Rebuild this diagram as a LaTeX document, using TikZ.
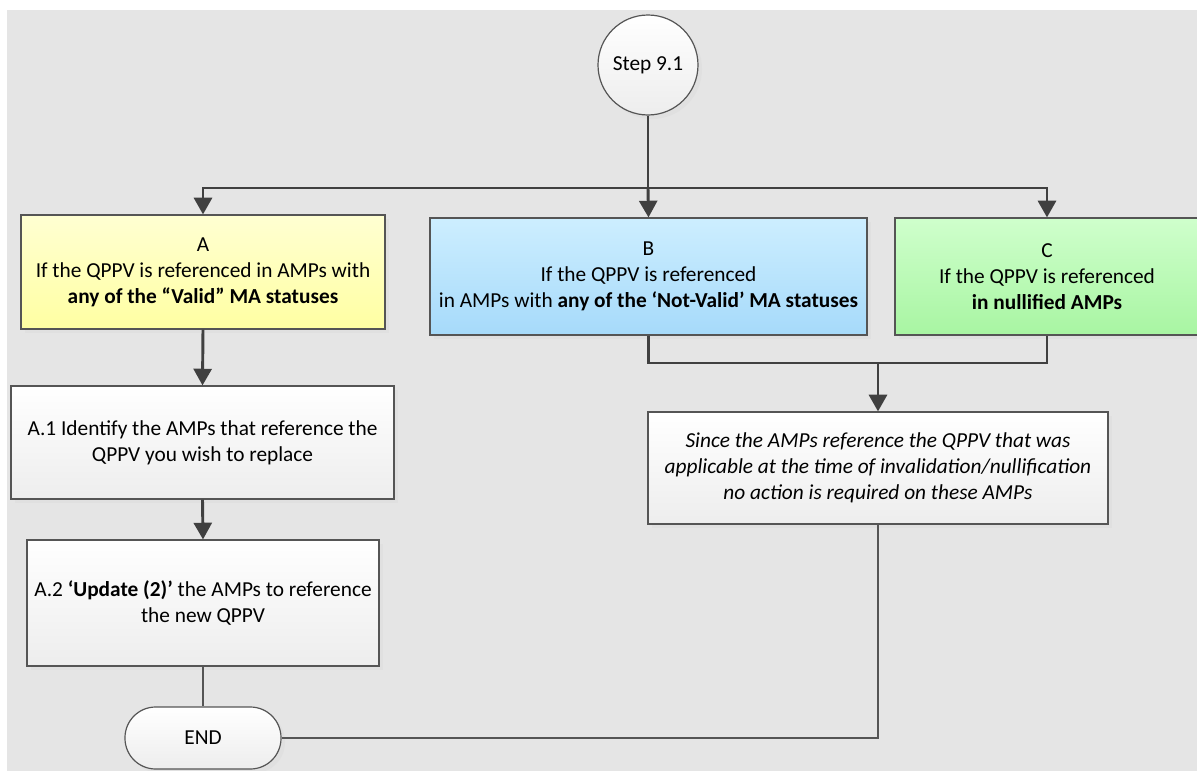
\documentclass[tikz,border=0pt]{standalone}
\usepackage{fontspec}
\setmainfont{Carlito}
\usetikzlibrary{arrows.meta,shadows}

\definecolor{bgGray}{HTML}{E5E5E5}
\definecolor{lineGray}{HTML}{404040}
\definecolor{borderGray}{HTML}{555555}
\definecolor{yellowTop}{HTML}{FFFFD2}
\definecolor{yellowBot}{HTML}{FFFFA2}
\definecolor{blueTop}{HTML}{CDEEFF}
\definecolor{blueBot}{HTML}{A6DAFA}
\definecolor{greenTop}{HTML}{CFFFCC}
\definecolor{greenBot}{HTML}{A8F5A2}

\tikzset{
  box/.style={draw=borderGray, line width=0.9pt, align=center, inner sep=0pt,
    font=\fontsize{16}{19.5}\selectfont,
    drop shadow={shadow xshift=3pt, shadow yshift=-3pt, fill=black!12, opacity=1}},
  whitebox/.style={box, top color=white, bottom color=black!7},
  yellowbox/.style={box, top color=yellowTop, bottom color=yellowBot},
  bluebox/.style={box, top color=blueTop, bottom color=blueBot},
  greenbox/.style={box, top color=greenTop, bottom color=greenBot},
  flow/.style={draw=lineGray, line width=2.2pt},
  flowarrow/.style={flow, -{Triangle[length=12.5pt,width=13.5pt]}},
  thinline/.style={draw=borderGray, line width=1.4pt}
}

\begin{document}
\begin{tikzpicture}[x=0.75pt, y=-0.75pt]
% Draw the background
\fill[white] (0,0) rectangle (1197,771);
\fill[bgGray] (7,10) rectangle (1197,771);
\useasboundingbox (0,0) rectangle (1197,771);

% Start circle
\node[whitebox, circle, minimum size=75pt] (step) at (648,65) {Step 9.1};

% The three cases
\node[yellowbox, minimum width=273pt, minimum height=85.5pt] (A) at (203,272)
  {A\\If the QPPV is referenced in AMPs with\\\textbf{any of the “Valid” MA statuses}};
\node[bluebox, minimum width=327.75pt, minimum height=87.75pt] (B) at (648.5,276.5)
  {B\\If the QPPV is referenced\\in AMPs with \textbf{any of the ‘Not-Valid’ MA statuses}};
\node[greenbox, minimum width=228pt, minimum height=87.75pt] (C) at (1047,276.5)
  {C\\If the QPPV is referenced\\\textbf{in nullified AMPs}};

% Steps for case A
\node[whitebox, minimum width=287.25pt, minimum height=84.75pt] (A1) at (202.5,442.5)
  {A.1 Identify the AMPs that reference the\\QPPV you wish to replace};
\node[whitebox, minimum width=264pt, minimum height=94.5pt] (A2) at (203,603)
  {A.2 \textbf{‘Update (2)’} the AMPs to reference\\the new QPPV};

% Cases B and C
\node[whitebox, minimum width=345pt, minimum height=84pt, font=\fontsize{16}{19.5}\selectfont\itshape] (D) at (878,468)
  {Since the AMPs reference the QPPV that was\\applicable at the time of invalidation/nullification\\no action is required on these AMPs};

% End
\node[whitebox, rounded corners=23pt, minimum width=117pt, minimum height=46.5pt] (end) at (203,738) {END};

% Draw the connectors
\coordinate (split) at (648,188);
\coordinate (join) at (878,363);
\draw[flow] (step.south) -- (split);
\draw[flowarrow] (split) -| (A.north);
\draw[flowarrow] (split) -- (B.north);
\draw[flowarrow] (split) -| (C.north);
\draw[flowarrow] (A.south) -- (A1.north);
\draw[flowarrow] (A1.south) -- (A2.north);
\draw[flow] (B.south) |- (join) -| (C.south);
\draw[flowarrow] (join) -- (D.north);
\draw[thinline] (A2.south) -- (end.north);
\draw[thinline] (D.south) |- (end.east);
\end{tikzpicture}
\end{document}
